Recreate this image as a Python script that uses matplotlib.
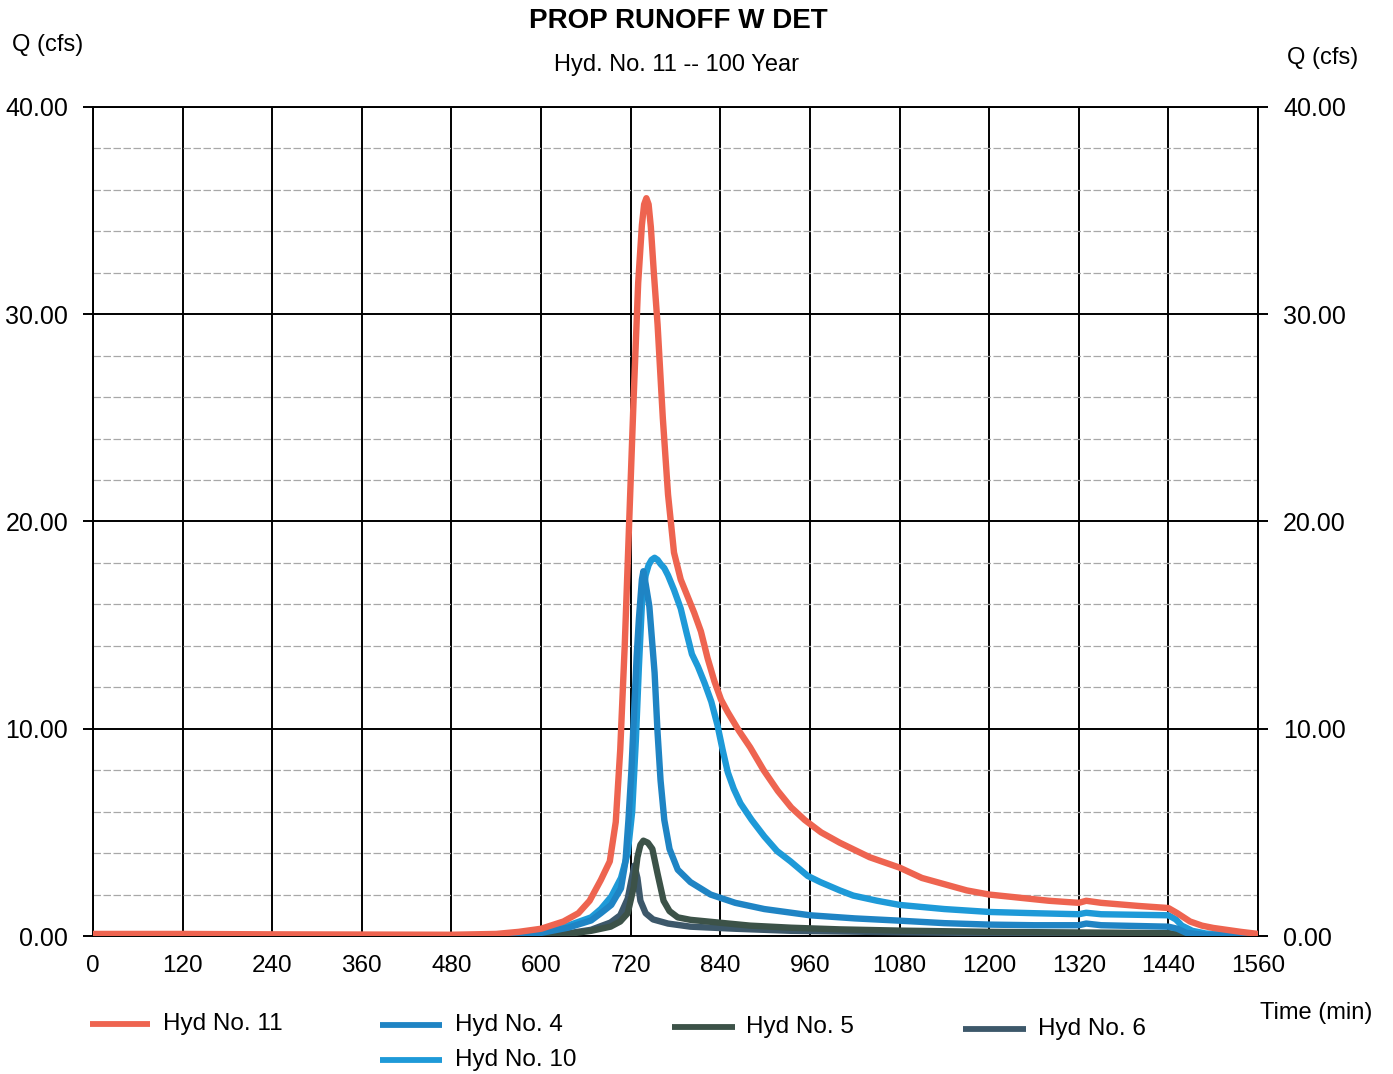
import numpy as np
import matplotlib
matplotlib.use("Agg")
import matplotlib.pyplot as plt
from matplotlib.lines import Line2D

plt.rcParams['font.family'] = ['Liberation Sans', 'DejaVu Sans']

# ---------------- data (time in min, Q in cfs) ----------------
t11 = [0, 120, 240, 360, 480, 540, 570, 600, 630, 650, 665, 680, 692, 700, 706, 712, 718,
       724, 730, 735, 738, 741, 744, 747, 751, 756, 763, 770, 778, 787, 796, 805, 814, 823,
       832, 841, 850, 865, 880, 898, 917, 935, 953, 975, 1000, 1040, 1080, 1110, 1140, 1170,
       1200, 1240, 1280, 1320, 1330, 1350, 1400, 1440, 1452, 1469, 1485, 1500, 1537, 1560]
q11 = [0.10, 0.10, 0.08, 0.07, 0.06, 0.10, 0.20, 0.35, 0.70, 1.10, 1.70, 2.70, 3.60, 5.5,
       9.0, 14.0, 20.0, 26.0, 31.5, 34.3, 35.3, 35.6, 35.3, 34.2, 32.0, 29.5, 25.0, 21.3,
       18.5, 17.2, 16.4, 15.6, 14.7, 13.4, 12.3, 11.4, 10.8, 9.9, 9.1, 8.0, 7.0, 6.2, 5.6,
       5.0, 4.5, 3.8, 3.3, 2.8, 2.5, 2.2, 2.0, 1.85, 1.7, 1.6, 1.7, 1.6, 1.45, 1.35, 1.1,
       0.7, 0.5, 0.39, 0.2, 0.1]

t4 = [0, 480, 540, 600, 636, 667, 680, 694, 707, 713, 717, 721, 724, 728, 731, 735, 737,
      740, 745, 752, 756, 760, 765, 772, 783, 800, 827, 860, 899, 960, 1020, 1080, 1140,
      1200, 1260, 1320, 1330, 1350, 1440, 1452, 1464, 1490, 1560]
q4 = [0.02, 0.02, 0.05, 0.15, 0.4, 0.75, 1.1, 1.5, 2.3, 3.6, 5.6, 8.0, 10.4, 13.5, 15.3,
      17.2, 17.6, 17.0, 15.9, 12.7, 9.8, 7.5, 5.6, 4.2, 3.2, 2.6, 2.0, 1.6, 1.3, 1.0, 0.85,
      0.74, 0.62, 0.55, 0.52, 0.52, 0.6, 0.52, 0.45, 0.35, 0.15, 0.05, 0.0]

t10 = [0, 480, 540, 600, 636, 667, 680, 694, 707, 716, 722, 727, 731, 735, 740, 744, 748,
       752, 756, 760, 765, 770, 778, 787, 795, 802, 810, 819, 828, 836, 843, 850, 858, 867,
       882, 899, 916, 934, 957, 974, 1000, 1018, 1050, 1080, 1140, 1200, 1260, 1320, 1330,
       1350, 1440, 1450, 1458, 1472, 1490, 1520, 1560]
q10 = [0.02, 0.02, 0.05, 0.2, 0.5, 0.9, 1.3, 1.9, 2.8, 4.0, 6.0, 9.5, 13.0, 16.0, 17.4,
       17.9, 18.15, 18.25, 18.15, 17.95, 17.75, 17.4, 16.7, 15.8, 14.6, 13.6, 13.0, 12.2,
       11.3, 10.2, 9.0, 7.9, 7.1, 6.4, 5.6, 4.8, 4.1, 3.6, 2.9, 2.6, 2.2, 1.95, 1.7, 1.5,
       1.3, 1.16, 1.1, 1.05, 1.12, 1.05, 1.0, 0.8, 0.5, 0.25, 0.12, 0.06, 0.02]

t5 = [0, 480, 600, 640, 667, 693, 706, 716, 724, 729, 733, 737, 743, 749, 756, 764, 772,
      783, 800, 837, 880, 935, 1000, 1080, 1200, 1320, 1440, 1460, 1560]
q5 = [0.0, 0.0, 0.05, 0.12, 0.25, 0.45, 0.7, 1.1, 2.35, 3.8, 4.4, 4.6, 4.5, 4.2, 3.0, 1.7,
      1.2, 0.9, 0.78, 0.65, 0.5, 0.4, 0.32, 0.26, 0.2, 0.17, 0.14, 0.05, 0.0]

t6 = [0, 480, 600, 640, 667, 693, 706, 716, 721, 725, 729, 733, 740, 750, 770, 800, 860,
      935, 1000, 1080, 1200, 1320, 1440, 1460, 1560]
q6 = [0.0, 0.0, 0.05, 0.15, 0.3, 0.65, 1.0, 1.8, 2.7, 3.4, 2.8, 1.7, 1.1, 0.8, 0.6, 0.45,
      0.35, 0.25, 0.22, 0.18, 0.14, 0.12, 0.1, 0.03, 0.0]

x_ticks = list(range(0, 1561, 120))
y_ticks = [0, 10, 20, 30, 40]
series_names = ["Hyd No. 11", "Hyd No. 4", "Hyd No. 10", "Hyd No. 5", "Hyd No. 6"]
colors = {"Hyd No. 11": "#EE6450", "Hyd No. 4": "#1F84C4", "Hyd No. 10": "#1E9AD8",
          "Hyd No. 5": "#3C5248", "Hyd No. 6": "#3D586A"}

# ---------------- figure ----------------
W, H = 1393, 1074
fig = plt.figure(figsize=(W / 100, H / 100), dpi=100)
fig.patch.set_facecolor("white")

L, R, T, B = 93, 1258, 107, 936
ax = fig.add_axes([L / W, 1 - B / H, (R - L) / W, (B - T) / H])
ax.set_xlim(0, 1560)
ax.set_ylim(0, 40)

ax.set_xticks(x_ticks)
ax.set_xticklabels([str(v) for v in x_ticks])
ax.set_yticks(y_ticks)
ax.set_yticklabels([f"{v:.2f}" for v in y_ticks])
ax.set_yticks(np.arange(0, 41, 2), minor=True)

ax.grid(which="major", color="black", lw=1.4, zorder=1)
ax.grid(which="minor", axis="y", color="#a8a8a8", lw=0.9, ls=(0, (6, 2)), zorder=1)
ax.set_axisbelow(True)
for s in ax.spines.values():
    s.set_linewidth(1.4)
    s.set_color("black")

ax.tick_params(axis="x", which="both", length=0, pad=14, labelsize=17.5)
ax.tick_params(axis="y", which="major", length=7, width=1.4, direction="out",
               left=True, right=True, labelleft=True, labelright=True,
               pad=11, labelsize=18)
ax.tick_params(axis="y", which="minor", length=0)

lw = 4.6
ax.plot(t6, q6, color=colors["Hyd No. 6"], lw=lw, solid_capstyle="round", solid_joinstyle="round", zorder=3)
ax.plot(t5, q5, color=colors["Hyd No. 5"], lw=lw, solid_capstyle="round", solid_joinstyle="round", zorder=3)
ax.plot(t10, q10, color=colors["Hyd No. 10"], lw=lw, solid_capstyle="round", solid_joinstyle="round", zorder=4)
ax.plot(t4, q4, color=colors["Hyd No. 4"], lw=lw, solid_capstyle="round", solid_joinstyle="round", zorder=4)
ax.plot(t11, q11, color=colors["Hyd No. 11"], lw=lw, solid_capstyle="round", solid_joinstyle="round", zorder=5)

# ---------------- texts ----------------
def fx(px):
    return px / W

def fy(py):
    return 1 - py / H

fig.text(fx(678), fy(21), "PROP RUNOFF W DET", ha="center", va="center",
         fontsize=20, fontweight="bold")
fig.text(fx(677), fy(65), "Hyd. No. 11 -- 100 Year", ha="center", va="center", fontsize=17)
fig.text(fx(48), fy(45), "Q (cfs)", ha="center", va="center", fontsize=17)
fig.text(fx(1323), fy(58), "Q (cfs)", ha="center", va="center", fontsize=17)
fig.text(fx(1316), fy(1013), "Time (min)", ha="center", va="center", fontsize=17)

# ---------------- legend ----------------
legend_items = [
    ("Hyd No. 11", 90, 150, 1024, 163),
    ("Hyd No. 4", 380, 442, 1025, 455),
    ("Hyd No. 10", 380, 442, 1060, 455),
    ("Hyd No. 5", 672, 735, 1027, 746),
    ("Hyd No. 6", 963, 1026, 1029, 1038),
]
for name, x0, x1, yy, xt in legend_items:
    fig.add_artist(Line2D([fx(x0), fx(x1)], [fy(yy), fy(yy)], transform=fig.transFigure,
                          color=colors[name], lw=4.2, solid_capstyle="butt"))
    fig.text(fx(xt), fy(yy), name, ha="left", va="center", fontsize=17.5)

fig.savefig("out.png", dpi=100)
